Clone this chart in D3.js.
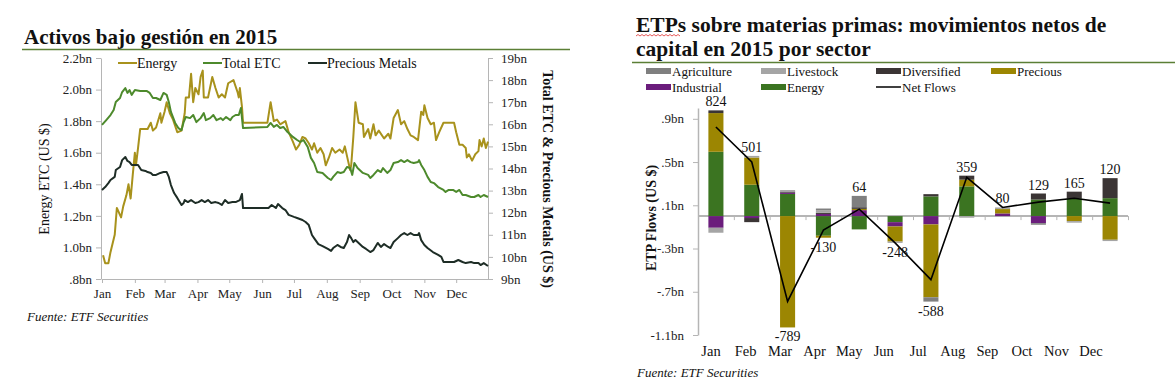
<!DOCTYPE html>
<html>
<head>
<meta charset="utf-8">
<script src="https://cdn.jsdelivr.net/npm/d3@7"></script>
<style>
  body { margin: 0; background: #fff; }
  text { font-family: "Liberation Serif", "Times New Roman", serif; fill: #111; }
  .axis path, .axis line { stroke: #b5b5b5; }
  .axis text { font-size: 13px; fill: #222; }
</style>
</head>
<body>
<svg id="chart" width="1175" height="383"></svg>
<script>
// ---- left chart: assets under management 2015, [day of year, bn US$]
const energyAum = [[1,0.95],[3,0.90],[6,0.90],[8,0.97],[12,1.08],[14,1.25],[18,1.19],[20,1.26],[23,1.33],[25,1.40],[27,1.31],[29,1.46],[31,1.60],[32,1.52],[34,1.63],[36,1.75],[43,1.75],[46,1.79],[48,1.74],[51,1.76],[55,1.85],[56,1.79],[59,1.86],[61,1.92],[64,1.85],[67,1.81],[71,1.73],[75,1.74],[78,1.85],[79,1.95],[82,1.95],[84,2.10],[86,1.92],[88,2.01],[91,1.97],[93,2.08],[95,2.12],[96,1.95],[100,1.95],[104,2.08],[107,2.01],[110,1.95],[113,1.97],[116,1.95],[119,2.04],[124,2.06],[128,1.98],[129,1.95],[130,2.01],[132,1.89],[133,1.79],[156,1.79],[159,1.92],[162,1.80],[165,1.81],[168,1.78],[173,1.80],[176,1.73],[180,1.67],[183,1.62],[186,1.65],[189,1.70],[192,1.69],[195,1.66],[198,1.62],[200,1.66],[203,1.60],[206,1.63],[209,1.59],[211,1.52],[214,1.57],[217,1.63],[220,1.60],[224,1.62],[227,1.60],[229,1.64],[232,1.55],[234,1.49],[235,1.52],[237,1.70],[239,1.92],[242,1.79],[246,1.78],[247,1.70],[251,1.75],[253,1.69],[256,1.78],[258,1.71],[261,1.74],[266,1.69],[270,1.72],[272,1.69],[275,1.82],[279,1.87],[282,1.78],[285,1.80],[288,1.75],[291,1.71],[294,1.70],[298,1.68],[301,1.86],[303,1.84],[304,1.90],[307,1.82],[310,1.78],[313,1.79],[315,1.68],[318,1.73],[322,1.79],[332,1.79],[334,1.73],[337,1.65],[340,1.65],[343,1.63],[344,1.57],[346,1.59],[349,1.55],[352,1.59],[355,1.61],[356,1.68],[358,1.64],[360,1.69],[362,1.63],[364,1.67]];

const totalEtc = [[0,15.97],[4,16.19],[8,16.42],[11,16.65],[13,17.01],[17,17.19],[19,17.46],[22,17.64],[24,17.42],[26,17.55],[28,17.33],[31,17.55],[36,17.51],[42,17.51],[45,17.42],[48,17.19],[51,17.19],[55,17.10],[58,17.42],[61,17.33],[63,17.01],[65,16.56],[69,16.06],[72,15.83],[75,15.74],[77,16.10],[79,16.33],[83,16.28],[86,16.42],[89,16.10],[93,16.28],[96,16.51],[98,16.19],[102,16.28],[105,16.42],[108,16.19],[112,16.28],[114,16.19],[117,16.33],[121,16.19],[123,16.33],[126,16.42],[129,16.42],[131,16.74],[133,15.83],[156,15.88],[159,16.06],[162,15.88],[165,15.97],[168,15.83],[171,15.88],[175,15.65],[180,15.43],[184,15.29],[187,15.20],[190,15.29],[194,14.97],[197,14.48],[200,14.25],[203,13.84],[208,13.80],[213,13.57],[216,13.48],[218,13.62],[222,13.84],[225,13.80],[228,13.84],[231,14.07],[234,14.02],[236,13.71],[238,14.25],[241,14.02],[246,13.80],[251,13.71],[253,13.57],[256,13.71],[260,13.93],[263,13.84],[265,14.02],[269,13.80],[272,13.93],[275,14.25],[279,14.29],[282,14.38],[285,14.29],[288,14.38],[291,14.29],[294,14.25],[298,14.29],[299,14.38],[301,14.16],[304,13.93],[307,13.62],[310,13.39],[313,13.34],[317,13.16],[322,13.03],[324,12.94],[327,13.03],[331,13.03],[334,12.94],[337,13.03],[340,12.80],[343,12.80],[348,12.71],[351,12.71],[355,12.80],[357,12.71],[360,12.80],[364,12.71]];

const preciousMetals = [[0,13.03],[3,13.16],[6,13.34],[8,13.48],[12,13.62],[13,13.93],[17,14.07],[19,14.38],[22,14.52],[24,14.34],[26,14.29],[28,14.16],[31,14.16],[34,14.16],[37,13.93],[41,13.89],[43,13.84],[46,13.80],[48,13.71],[51,13.71],[55,13.80],[58,13.84],[61,13.84],[63,13.62],[65,13.25],[68,12.89],[71,12.67],[75,12.35],[77,12.44],[78,12.57],[81,12.48],[84,12.57],[88,12.44],[91,12.48],[94,12.57],[97,12.48],[100,12.57],[103,12.44],[107,12.48],[110,12.44],[113,12.35],[116,12.57],[119,12.44],[123,12.48],[126,12.48],[130,12.57],[132,12.85],[133,12.21],[157,12.21],[160,12.35],[164,12.21],[166,12.39],[170,12.21],[173,12.12],[176,11.90],[181,11.81],[184,11.76],[189,11.67],[192,11.58],[195,11.44],[198,10.99],[200,10.85],[204,10.58],[208,10.49],[213,10.36],[216,10.27],[218,10.40],[222,10.54],[225,10.45],[228,10.40],[231,10.67],[233,10.99],[235,10.85],[237,10.67],[239,10.76],[242,10.63],[246,10.45],[249,10.36],[253,10.22],[256,10.31],[260,10.63],[263,10.45],[266,10.58],[270,10.45],[272,10.40],[275,10.67],[279,10.85],[282,10.99],[285,11.08],[288,10.99],[291,11.08],[294,10.99],[298,10.99],[299,11.08],[301,10.76],[304,10.54],[307,10.40],[312,10.22],[317,10.09],[320,10.00],[322,9.77],[327,9.77],[332,9.77],[336,9.86],[340,9.77],[343,9.72],[348,9.77],[351,9.72],[355,9.72],[357,9.63],[360,9.72],[364,9.59]];

const leftTicks = [0.8, 1.0, 1.2, 1.4, 1.6, 1.8, 2.0, 2.2];
const rightTicks = [9, 10, 11, 12, 13, 14, 15, 16, 17, 18, 19];

// ---- right chart: net ETP flows by sector 2015, US$ m
const months = ["Jan", "Feb", "Mar", "Apr", "May", "Jun", "Jul", "Aug", "Sep", "Oct", "Nov", "Dec"];
const agriculture = [0, 0, 0, 15, 105, 0, -40, 0, 0, -15, 0, 0];
const livestock   = [-46, 15, 14, 25, 0, -12, 0, -15, 15, 0, -15, -12];
const diversified = [25, -38, 10, 10, 15, 0, 21, 37, 0, 56, 62, 185];
const precious    = [358, 252, -1030, -18, 12, -140, -674, 62, 40, 0, -46, -219];
const industrial  = [-108, -18, 12, 20, 55, -40, -77, 0, 25, -65, 0, 0];
const energy      = [595, 290, 205, -182, -123, -56, 182, 275, 0, 153, 164, 166];
const netFlows    = [824, 501, -789, -130, 64, -248, -588, 359, 80, 129, 165, 120];
const flowTicks = [-1100, -700, -300, 100, 500, 900];

const svg = d3.select("#chart");
const dayToDate = d => new Date(2015, 0, 1 + d);
// plain hyphen for negatives, like the original
const fmt1 = d3.formatLocale({ decimal: ".", thousands: ",", grouping: [3], currency: ["$", ""], minus: "-" }).format(".1f");

// ================= left chart =================
const x = d3.scaleTime()
    .domain([new Date(2015, 0, 1), new Date(2015, 11, 31)])
    .range([102, 488]);
const yL = d3.scaleLinear().domain([0.8, 2.2]).range([279, 58]);
const yR = d3.scaleLinear().domain([9, 19]).range([279, 58]);

svg.append("text")
    .attr("x", 24).attr("y", 44)
    .attr("font-size", "21px").attr("font-weight", "bold")
    .text("Activos bajo gestión en 2015");
svg.append("line")
    .attr("x1", 22).attr("x2", 570).attr("y1", 49.5).attr("y2", 49.5)
    .attr("stroke", "#5b7f36").attr("stroke-width", 1.3);

const fmtLeft = v => fmt1(v).replace(/^0/, "") + "bn";

svg.append("g").attr("class", "axis")
    .attr("transform", "translate(101,0)")
    .call(d3.axisLeft(yL).tickValues(leftTicks).tickFormat(fmtLeft).tickSize(5).tickSizeOuter(0).tickPadding(4));

svg.append("g").attr("class", "axis")
    .attr("transform", "translate(488,0)")
    .call(d3.axisRight(yR).tickValues(rightTicks).tickFormat(d => d + "bn").tickSize(5).tickSizeOuter(0).tickPadding(8));

const xAxis = svg.append("g").attr("class", "axis")
    .attr("transform", "translate(0,279)")
    .call(d3.axisBottom(x).ticks(d3.timeMonth.every(1)).tickFormat(d3.timeFormat("%b")).tickSize(4).tickSizeOuter(0).tickPadding(6));
xAxis.selectAll("text").attr("font-size", "13.5px");

svg.append("text")
    .attr("transform", "translate(49,179) rotate(-90)")
    .attr("text-anchor", "middle").attr("font-size", "14px")
    .text("Energy ETC (US $)");
svg.append("text")
    .attr("transform", "translate(543,179) rotate(90)")
    .attr("text-anchor", "middle").attr("font-size", "14px").attr("font-weight", "bold")
    .text("Total ETC & Precious Metals (US $)");

const lineL = d3.line().x(d => x(dayToDate(d[0]))).y(d => yL(d[1]));
const lineR = d3.line().x(d => x(dayToDate(d[0]))).y(d => yR(d[1]));

const aumSeries = [
    { name: "Energy", data: energyAum, line: lineL, color: "#a8921c" },
    { name: "Total ETC", data: totalEtc, line: lineR, color: "#4d8a2c" },
    { name: "Precious Metals", data: preciousMetals, line: lineR, color: "#1e2d26" }
];

aumSeries.forEach(s => {
    svg.append("path")
        .datum(s.data)
        .attr("d", s.line)
        .attr("fill", "none")
        .attr("stroke", s.color)
        .attr("stroke-width", 2)
        .attr("stroke-linejoin", "round");
});

const aumLegendX = [118, 203, 308];
aumSeries.forEach((s, i) => {
    const g = svg.append("g").attr("transform", `translate(${aumLegendX[i]},63)`);
    g.append("line").attr("x1", 0).attr("x2", 19).attr("stroke", s.color).attr("stroke-width", 2);
    g.append("text").attr("x", 19).attr("y", 4.5).attr("font-size", "14px").text(s.name);
});

svg.append("text")
    .attr("x", 27).attr("y", 321)
    .attr("font-size", "13px").attr("font-style", "italic")
    .text("Fuente: ETF Securities");

// ================= right chart =================
svg.append("text")
    .attr("x", 636).attr("y", 32)
    .attr("font-size", "21.5px").attr("font-weight", "bold")
    .text("ETPs sobre materias primas: movimientos netos de");
svg.append("text")
    .attr("x", 636).attr("y", 56)
    .attr("font-size", "21.5px").attr("font-weight", "bold")
    .text("capital en 2015 por sector");
// spell-check squiggle under "ETPs"
let sq = "M636,36";
for (let i = 1; i <= 22; i++) sq += ` L${636 + i * 2},${i % 2 ? 34.5 : 36}`;
svg.append("path").attr("d", sq).attr("fill", "none").attr("stroke", "#e03030").attr("stroke-width", 0.8);

svg.append("line")
    .attr("x1", 632).attr("x2", 1175).attr("y1", 62.5).attr("y2", 62.5)
    .attr("stroke", "#5b7f36").attr("stroke-width", 1.3);

const sectorColor = {
    agriculture: "#7f7f7f",
    livestock: "#a5a5a5",
    diversified: "#3b3535",
    precious: "#9c8602",
    industrial: "#6b1d7c",
    energy: "#3b7421"
};
const sectorSeries = { agriculture, livestock, diversified, precious, industrial, energy };
const stackKeys = ["energy", "industrial", "precious", "diversified", "livestock", "agriculture"];

const flowRows = months.map((m, i) => {
    const row = { month: m };
    stackKeys.forEach(k => row[k] = sectorSeries[k][i]);
    return row;
});
const stacked = d3.stack().keys(stackKeys).offset(d3.stackOffsetDiverging)(flowRows);

const xb = d3.scaleBand().domain(months).range([698, 1128]).paddingInner(0.58).paddingOuter(0.29);
const xLab = d3.scalePoint().domain(months).range([711, 1091]);
const yF = d3.scaleLinear().domain([-1100, 1000]).range([335, 108]);

const fmtFlow = v => fmt1(v / 1000).replace(/^(-?)0\./, "$1.") + "bn";
const yAxisF = svg.append("g").attr("class", "axis")
    .attr("transform", "translate(698,0)")
    .call(d3.axisLeft(yF).tickValues(flowTicks).tickFormat(fmtFlow).tickSize(5).tickSizeOuter(0).tickPadding(9));
yAxisF.selectAll("text").attr("font-size", "14px");
yAxisF.select(".domain").attr("stroke-width", 1.5);

// zero line with small ticks between months
svg.append("line")
    .attr("x1", 698).attr("x2", 1128).attr("y1", yF(0)).attr("y2", yF(0))
    .attr("stroke", "#b5b5b5").attr("stroke-width", 2);
svg.append("g").selectAll("line")
    .data(months)
    .join("line")
    .attr("x1", d => xb(d) + xb.bandwidth() + xb.step() * 0.29 + 0.5)
    .attr("x2", d => xb(d) + xb.bandwidth() + xb.step() * 0.29 + 0.5)
    .attr("y1", yF(0)).attr("y2", yF(0) + 4)
    .attr("stroke", "#b5b5b5");

svg.append("g").selectAll("g")
    .data(stacked)
    .join("g")
    .attr("fill", d => sectorColor[d.key])
    .selectAll("rect")
    .data(d => d)
    .join("rect")
    .attr("x", d => xb(d.data.month))
    .attr("width", xb.bandwidth())
    .attr("y", d => yF(Math.max(d[0], d[1])))
    .attr("height", d => Math.abs(yF(d[0]) - yF(d[1])));

const netLine = d3.line()
    .x((d, i) => xb(months[i]) + xb.bandwidth() / 2)
    .y(d => yF(d));
svg.append("path")
    .datum(netFlows)
    .attr("d", netLine)
    .attr("fill", "none")
    .attr("stroke", "#000")
    .attr("stroke-width", 1.6);

// value labels above the positive stack or below the negative stack
const posTop = months.map((m, i) => d3.max(stacked, s => s[i][1]));
const negBottom = months.map((m, i) => d3.min(stacked, s => s[i][0]));
svg.append("g").selectAll("text")
    .data(netFlows)
    .join("text")
    .attr("x", (d, i) => xb(months[i]) + xb.bandwidth() / 2)
    .attr("y", (d, i) => d >= 0 ? yF(posTop[i]) - 4 : yF(negBottom[i]) + 14)
    .attr("text-anchor", "middle")
    .attr("font-size", "14px")
    .text(d => d);

svg.append("g").selectAll("text")
    .data(months)
    .join("text")
    .attr("x", d => xLab(d))
    .attr("y", 356)
    .attr("text-anchor", "middle")
    .attr("font-size", "14.5px")
    .text(d => d);

svg.append("text")
    .attr("transform", "translate(656,218) rotate(-90)")
    .attr("text-anchor", "middle").attr("font-size", "14px").attr("font-weight", "bold")
    .text("ETP Flows (US $)");

// legend
const flowLegend = [
    { label: "Agriculture", key: "agriculture" },
    { label: "Livestock", key: "livestock" },
    { label: "Diversified", key: "diversified" },
    { label: "Precious", key: "precious" },
    { label: "Industrial", key: "industrial" },
    { label: "Energy", key: "energy" },
    { label: "Net Flows", key: null }
];
flowLegend.forEach((d, i) => {
    const g = svg.append("g")
        .attr("transform", `translate(${646 + (i % 4) * 115},${71 + Math.floor(i / 4) * 16})`);
    if (d.key) {
        g.append("rect").attr("x", 0).attr("y", -3).attr("width", 25).attr("height", 6)
            .attr("fill", sectorColor[d.key]);
    } else {
        g.append("line").attr("x1", 0).attr("x2", 25).attr("stroke", "#000").attr("stroke-width", 1.5);
    }
    g.append("text").attr("x", 26).attr("y", 4.5).attr("font-size", "13px").text(d.label);
});

svg.append("text")
    .attr("x", 637).attr("y", 377)
    .attr("font-size", "13px").attr("font-style", "italic")
    .text("Fuente: ETF Securities");
</script>
</body>
</html>
